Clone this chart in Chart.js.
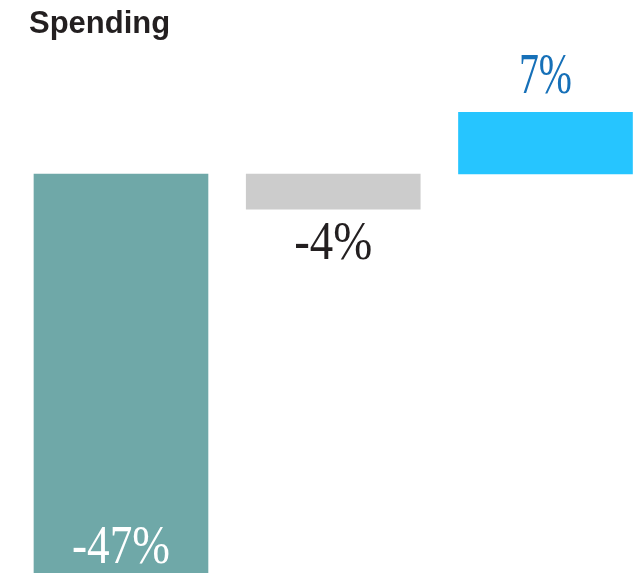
<!DOCTYPE html>
<html lang="en">
<head>
    <meta charset="UTF-8">
    <title>Spending</title>
    <script src="https://cdn.jsdelivr.net/npm/chart.js"></script>
    <style>
        html, body { margin: 0; padding: 0; background: #fff; }
        #wrap { width: 641px; height: 573px; position: relative; }
    </style>
</head>
<body>
    <div id="wrap"><canvas id="spendingChart"></canvas></div>

    <script>
        // Daten
        const categories = ['A', 'B', 'C'];
        const values = [-47, -4, 7];
        const valueLabels = ['-47%', '-4%', '7%'];
        const barColors = ['#6fa8a8', '#cccccc', '#26c5ff'];

        const labelWidths = [98, 78, 53]; // ungefähre Breite der schmalen Serifenschrift

        const labelPlugin = {
            id: 'labels',
            afterDatasetsDraw(chart) {
                const ctx = chart.ctx;
                const area = chart.chartArea;
                const bars = chart.getDatasetMeta(0).data;

                // Titel
                ctx.save();
                ctx.font = 'bold 31px "Liberation Sans", Arial, sans-serif';
                ctx.fillStyle = '#231f20';
                ctx.textBaseline = 'alphabetic';
                ctx.textAlign = 'left';
                ctx.fillText('Spending', 29, 33);
                ctx.restore();

                bars.forEach((bar, i) => {
                    const v = values[i];
                    let y, color, size = 55;
                    if (v < 0 && bar.y > area.bottom) {
                        y = area.bottom - 10;
                        color = '#ffffff';
                    } else if (v < 0) {
                        y = bar.y + 50;
                        color = '#231f20';
                    } else {
                        y = bar.y - 19;
                        color = '#1670b8';
                        size = 58;
                    }
                    ctx.save();
                    ctx.font = size + 'px "Liberation Serif", "Times New Roman", serif';
                    const w = ctx.measureText(valueLabels[i]).width;
                    const sx = labelWidths[i] / w;
                    ctx.translate(bar.x, y);
                    ctx.scale(sx, 1);
                    ctx.fillStyle = color;
                    ctx.textAlign = 'center';
                    ctx.textBaseline = 'alphabetic';
                    ctx.fillText(valueLabels[i], 0, 0);
                    ctx.restore();
                });
            }
        };

        const ctx = document.getElementById('spendingChart').getContext('2d');
        new Chart(ctx, {
            type: 'bar',
            data: {
                datasets: [{
                    label: 'Spending',
                    data: values.map((v, i) => ({ x: i, y: v })),
                    backgroundColor: barColors,
                    borderWidth: 0,
                    barThickness: 174
                }]
            },
            options: {
                responsive: true,
                maintainAspectRatio: false,
                animation: false,
                layout: { padding: 0 },
                plugins: {
                    legend: { display: false },
                    tooltip: { enabled: false },
                    title: { display: false }
                },
                scales: {
                    x: {
                        type: 'linear',
                        display: false,
                        min: -0.570,
                        max: 2.450,
                        offset: false
                    },
                    y: {
                        display: false,
                        min: -45.34,
                        max: 19.77
                    }
                }
            },
            plugins: [labelPlugin]
        });
    </script>
</body>
</html>
